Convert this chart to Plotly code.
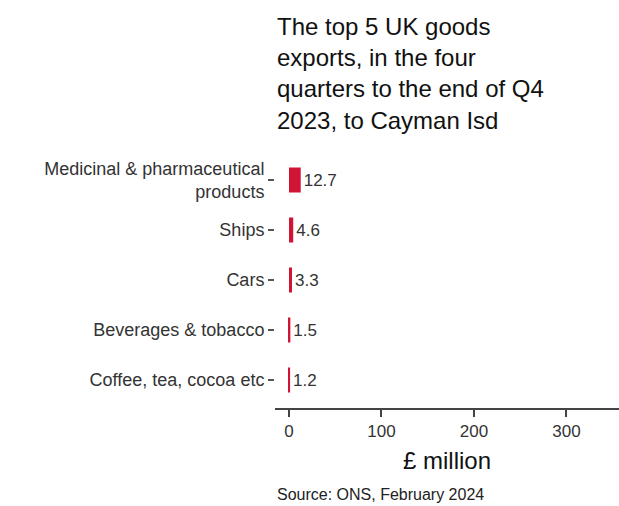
import plotly.graph_objects as go

categories = ["Medicinal & pharmaceutical<br>products", "Ships", "Cars",
              "Beverages & tobacco", "Coffee, tea, cocoa etc"]
values = [12.7, 4.6, 3.3, 1.5, 1.2]
labels = ["12.7", "4.6", "3.3", "1.5", "1.2"]
x_ticks = [0, 100, 200, 300]

font_family = "Arial, 'Liberation Sans', sans-serif"

fig = go.Figure(go.Bar(
    x=values, y=categories, orientation="h",
    marker=dict(color="#CF1434", line=dict(width=0)),
    width=0.5,
    text=labels, textposition="outside", cliponaxis=False,
    textfont=dict(size=17, color="#333333", family=font_family),
))

fig.update_layout(
    width=619, height=506,
    margin=dict(l=275, r=0, t=150, b=98),
    paper_bgcolor="white", plot_bgcolor="white",
    font=dict(family=font_family, color="#222222"),
    showlegend=False,
    xaxis=dict(
        range=[-15.1, 356.8], tickvals=x_ticks,
        showgrid=False, zeroline=False,
        showline=True, linecolor="#444444", linewidth=2,
        ticks="outside", ticklen=7, tickcolor="#444444", tickwidth=1.5,
        tickfont=dict(size=17, color="#333333"),
        title=dict(text="£ million", font=dict(size=24, color="#111111"), standoff=12),
    ),
    yaxis=dict(
        categoryorder="array", categoryarray=categories,
        range=[4.56, -0.6],
        showgrid=False, zeroline=False, showline=False,
        ticks="outside", ticklen=6, tickcolor="#555555", tickwidth=1.5,
        tickfont=dict(size=18, color="#333333"),
    ),
    annotations=[
        dict(
            text="The top 5 UK goods<br>exports, in the four<br>quarters to the end of Q4<br>2023, to Cayman Isd",
            xref="paper", yref="paper", x=0, y=1.54,
            xanchor="left", yanchor="top", align="left", showarrow=False,
            font=dict(size=24, color="#111111", family=font_family),
        ),
        dict(
            text="Source: ONS, February 2024", xref="paper", yref="paper",
            x=0, y=-0.337, xanchor="left", yanchor="middle", showarrow=False,
            font=dict(size=16, color="#222222"),
        ),
    ],
)

fig.write_html("out.html", config={"displayModeBar": False},
               post_script="document.body.style.margin='0px';")
